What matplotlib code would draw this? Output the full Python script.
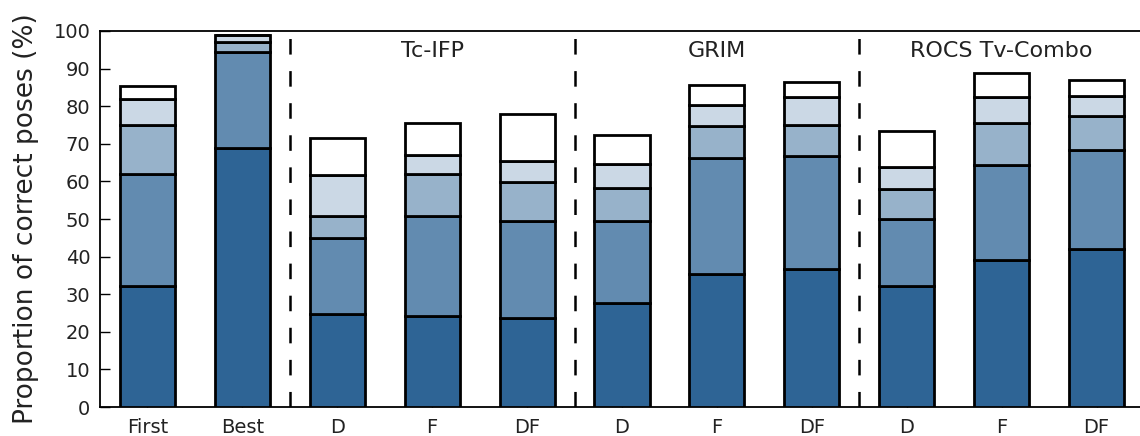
import matplotlib
matplotlib.use("Agg")
import matplotlib.pyplot as plt
import numpy as np

# x categories and the group each one belongs to
labels = ["First", "Best", "D", "F", "DF", "D", "F", "DF", "D", "F", "DF"]
groups = ["Tc-IFP", "GRIM", "ROCS Tv-Combo"]
group_centers = [3, 6, 9]
separators = [1.5, 4.5, 7.5]

# cumulative proportion of correct poses (%), one list per tier (tightest first)
tier1 = [32.2, 69.0, 24.7, 24.3, 23.8, 27.6, 35.4, 36.7, 32.1, 39.0, 42.1]
tier2 = [62.0, 94.3, 45.0, 50.8, 49.6, 49.6, 66.3, 66.8, 49.9, 64.4, 68.4]
tier3 = [74.9, 97.1, 50.8, 62.0, 59.8, 58.3, 74.8, 75.1, 58.0, 75.6, 77.4]
tier4 = [81.9, 99.0, 61.8, 66.9, 65.5, 64.5, 80.3, 82.5, 63.8, 82.5, 82.8]
tier5 = [85.4, 99.0, 71.6, 75.6, 77.9, 72.3, 85.6, 86.5, 73.4, 88.7, 86.9]

tiers = [tier1, tier2, tier3, tier4, tier5]
alphas = [1.0, 0.75, 0.5, 0.25, 0.0]
base = np.array([46, 100, 149]) / 255.0

plt.rcParams["lines.scale_dashes"] = False

fig = plt.figure(figsize=(11.4, 4.36), dpi=100)
ax = fig.add_axes([100 / 1140, 29 / 436, 1044 / 1140, 376 / 436])

x = np.arange(len(labels))
bottom = np.zeros(len(labels))
for tier, a in zip(tiers, alphas):
    top = np.array(tier)
    color = base * a + (1 - a)
    ax.bar(x, top - bottom, bottom=bottom, width=0.58, color=color,
           edgecolor="black", linewidth=2.0, zorder=3)
    bottom = top

# dashed separators between methods
for s in separators:
    ax.axvline(s, color="black", linewidth=1.8, dashes=(11.2, 11.9), zorder=2)

for name, c in zip(groups, group_centers):
    ax.text(c, 93.0, name, ha="center", va="baseline", fontsize=16, color="#222222")

ax.set_xlim(-0.5, 10.5)
ax.set_ylim(0, 100)
ax.set_xticks(x)
ax.set_xticklabels(labels)
ax.set_yticks(np.arange(0, 101, 10))
ax.tick_params(direction="in", length=7, width=1, labelsize=14, pad=7,
               labelcolor="#222222")
ax.tick_params(axis="x", pad=8)
for sp in ax.spines.values():
    sp.set_linewidth(1.3)

ax.set_ylabel("Proportion of correct poses (%)", fontsize=19, color="#222222")
ax.yaxis.set_label_coords(-0.058, 0.5)

plt.savefig("out.png", dpi=100)
plt.close()
